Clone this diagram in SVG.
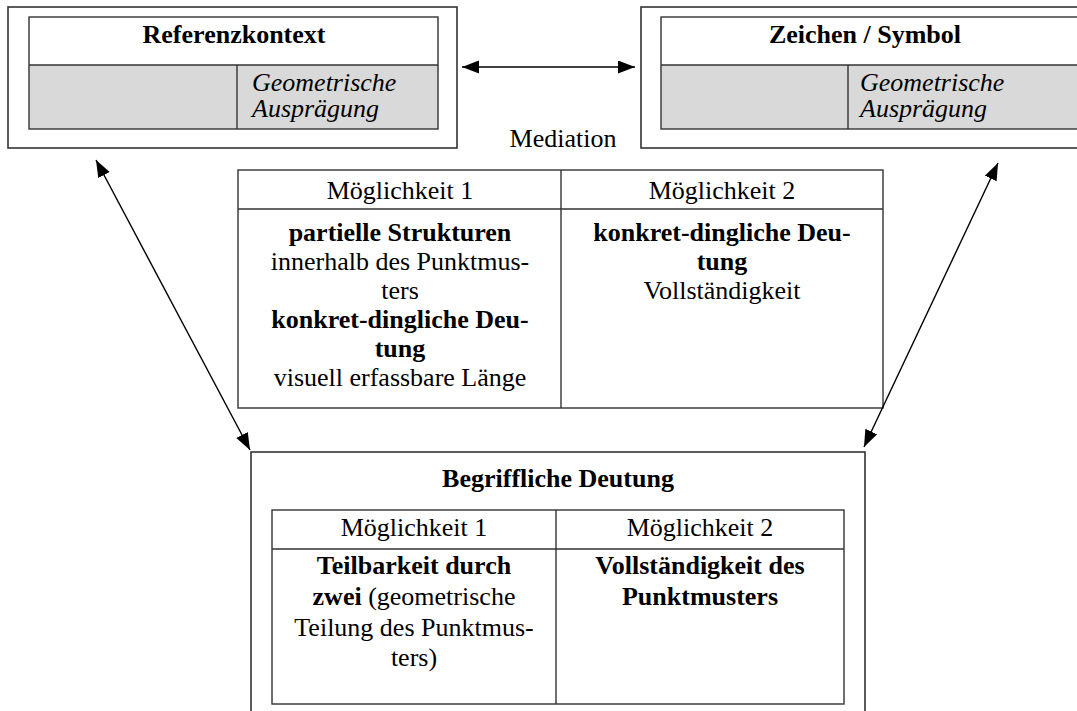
<svg xmlns="http://www.w3.org/2000/svg" width="1077" height="711" viewBox="0 0 1077 711">
  <defs>
    <style>
      text { font-family: "Liberation Serif", "Times New Roman", serif; font-size: 26px; fill: #000; }
      .b { font-weight: bold; }
      .i { font-style: italic; }
      .c { text-anchor: middle; }
      .frame { fill: #fff; stroke: #333; stroke-width: 1.6; }
      .cell { fill: none; stroke: #333; stroke-width: 1.4; }
      .shade { fill: #d9d9d9; }
      .conn { stroke: #000; stroke-width: 1.4; fill: none; marker-start: url(#head); marker-end: url(#head); }
    </style>
    <marker id="head" markerUnits="userSpaceOnUse" markerWidth="18" markerHeight="14" refX="17" refY="6.5" orient="auto-start-reverse">
      <path d="M0,0 L17,6.5 L0,13 Z" fill="#000"/>
    </marker>
  </defs>

  <rect width="1077" height="711" fill="#fff"/>

  <!-- Referenzkontext -->
  <g id="referenzkontext">
    <rect class="frame" x="8" y="7" width="449" height="141"/>
    <rect class="shade" x="29" y="65" width="409" height="64"/>
    <rect class="cell" x="29" y="17" width="409" height="112"/>
    <line class="cell" x1="29" y1="65" x2="438" y2="65"/>
    <line class="cell" x1="237" y1="65" x2="237" y2="129"/>
    <text class="b c" x="234" y="43">Referenzkontext</text>
    <text class="i" x="252" y="91">Geometrische</text>
    <text class="i" x="252" y="117">Ausprägung</text>
  </g>

  <!-- Zeichen / Symbol (runs past the right edge of the page) -->
  <g id="zeichen-symbol">
    <rect class="frame" x="641" y="7" width="470" height="141"/>
    <rect class="shade" x="661" y="65" width="430" height="64"/>
    <rect class="cell" x="661" y="17" width="430" height="112"/>
    <line class="cell" x1="661" y1="65" x2="1091" y2="65"/>
    <line class="cell" x1="848" y1="65" x2="848" y2="129"/>
    <text class="b c" x="865" y="43">Zeichen / Symbol</text>
    <text class="i" x="860" y="91">Geometrische</text>
    <text class="i" x="860" y="117">Ausprägung</text>
  </g>

  <!-- Mediation label and its table -->
  <g id="mediation">
    <text class="c" x="563" y="147">Mediation</text>
    <rect class="cell" x="238" y="170" width="645" height="238"/>
    <line class="cell" x1="238" y1="209" x2="883" y2="209"/>
    <line class="cell" x1="561" y1="170" x2="561" y2="408"/>
    <text class="c" x="400" y="199">Möglichkeit 1</text>
    <text class="c" x="722" y="199">Möglichkeit 2</text>
    <text class="b c" x="400" y="241">partielle Strukturen</text>
    <text class="c" x="400" y="270">innerhalb des Punktmus-</text>
    <text class="c" x="400" y="299">ters</text>
    <text class="b c" x="400" y="328">konkret-dingliche Deu-</text>
    <text class="b c" x="400" y="357">tung</text>
    <text class="c" x="400" y="386">visuell erfassbare Länge</text>
    <text class="b c" x="722" y="241">konkret-dingliche Deu-</text>
    <text class="b c" x="722" y="270">tung</text>
    <text class="c" x="722" y="299">Vollständigkeit</text>
  </g>

  <!-- Begriffliche Deutung -->
  <g id="begriffliche-deutung">
    <rect class="frame" x="251" y="452" width="614" height="280"/>
    <text class="b c" x="558" y="487">Begriffliche Deutung</text>
    <rect class="cell" x="272" y="510" width="572" height="194"/>
    <line class="cell" x1="272" y1="549" x2="844" y2="549"/>
    <line class="cell" x1="556" y1="510" x2="556" y2="704"/>
    <text class="c" x="414" y="536">Möglichkeit 1</text>
    <text class="c" x="700" y="536">Möglichkeit 2</text>
    <text class="b c" x="414" y="574">Teilbarkeit durch</text>
    <text class="c" x="414" y="605"><tspan class="b">zwei</tspan> (geometrische</text>
    <text class="c" x="414" y="636">Teilung des Punktmus-</text>
    <text class="c" x="414" y="666">ters)</text>
    <text class="b c" x="700" y="574">Vollständigkeit des</text>
    <text class="b c" x="700" y="605">Punktmusters</text>
  </g>

  <!-- connectors -->
  <g id="connectors">
    <line class="conn" x1="462" y1="67" x2="635" y2="67"/>
    <line class="conn" x1="96" y1="160" x2="250" y2="450"/>
    <line class="conn" x1="998" y1="163" x2="864" y2="447"/>
  </g>
</svg>
